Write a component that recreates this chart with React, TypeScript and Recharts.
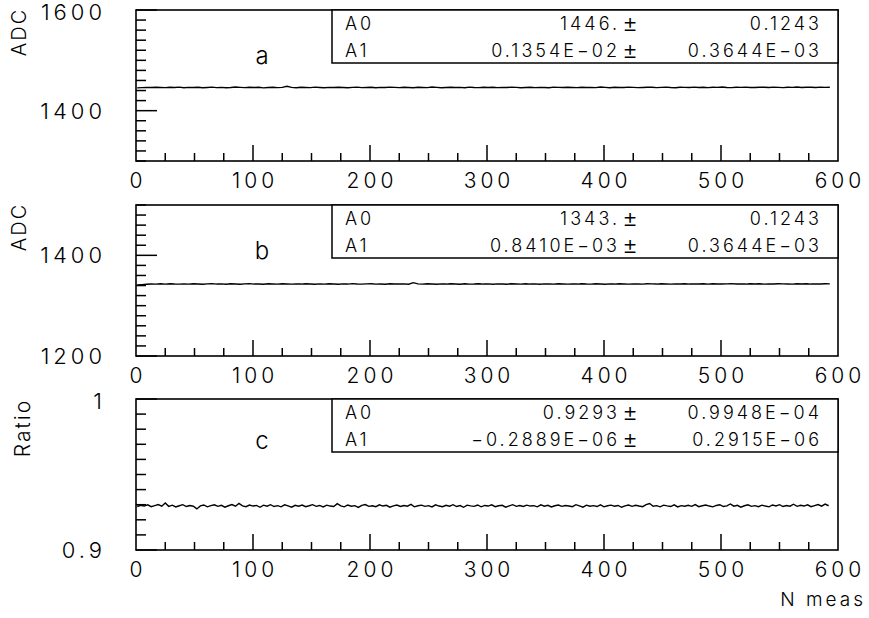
import React from 'react';
import { LineChart, Line, XAxis, YAxis } from 'recharts';

const W = 869;
const H = 618;
const FONT = "Inter, 'DejaVu Sans', sans-serif";
const PLOT_LEFT = 136;
const PLOT_RIGHT = 838;

// x axis: ticks every 25, labels every 100
const xTicks = [0, 25, 50, 75, 100, 125, 150, 175, 200, 225, 250, 275, 300, 325, 350, 375, 400, 425, 450, 475, 500, 525, 550, 575, 600];
const xLabels = [0, 100, 200, 300, 400, 500, 600];

const yTicksA = [1300, 1320, 1340, 1360, 1380, 1400, 1420, 1440, 1460, 1480, 1500, 1520, 1540, 1560, 1580, 1600];
const yLabelsA = [1400, 1600];
const yTicksB = [1200, 1220, 1240, 1260, 1280, 1300, 1320, 1340, 1360, 1380, 1400, 1420, 1440, 1460, 1480, 1500];
const yLabelsB = [1200, 1400];
const yTicksC = [0.9, 0.91, 0.92, 0.93, 0.94, 0.95, 0.96, 0.97, 0.98, 0.99, 1];
const yLabelsC = [0.9, 1];

// ADC, channel a (every 4th measurement)
const adcA = [
  1445.2, 1445.8, 1446.3, 1445.9, 1446.6, 1446.1, 1445.7, 1446.4, 1446.0, 1446.8,
  1445.6, 1446.2, 1445.9, 1446.5, 1445.4, 1446.1, 1446.7, 1445.8, 1446.3, 1445.5,
  1446.0, 1446.9, 1446.2, 1445.7, 1446.4, 1445.9, 1446.6, 1445.3, 1446.1, 1446.5,
  1445.8, 1446.3, 1448.4, 1446.2, 1445.6, 1446.4, 1446.0, 1445.7, 1446.8, 1446.1,
  1445.5, 1446.3, 1445.9, 1446.6, 1446.0, 1445.4, 1446.2, 1446.7, 1445.8, 1446.1,
  1446.5, 1445.6, 1446.3, 1445.9, 1446.8, 1446.2, 1445.7, 1446.4, 1446.0, 1445.5,
  1446.6, 1446.1, 1445.8, 1446.9, 1446.3, 1445.6, 1446.0, 1446.5, 1445.9, 1446.2,
  1445.4, 1446.7, 1446.1, 1445.8, 1446.4, 1446.0, 1446.6, 1445.7, 1446.3, 1445.9,
  1446.8, 1446.2, 1445.5, 1446.1, 1446.5, 1445.8, 1446.3, 1446.0, 1445.6, 1446.7,
  1446.2, 1445.9, 1446.4, 1446.1, 1445.7, 1446.6, 1446.0, 1446.3, 1445.8, 1446.9,
  1446.2, 1445.6, 1446.5, 1446.0, 1445.9, 1446.7, 1446.3, 1445.7, 1446.1, 1446.6,
  1446.4, 1445.8, 1446.2, 1446.8, 1446.0, 1445.6, 1446.5, 1446.3, 1445.9, 1446.7,
  1446.1, 1446.4, 1445.8, 1446.6, 1446.2, 1446.9, 1446.0, 1445.7, 1446.5, 1446.3,
  1446.8, 1446.1, 1445.9, 1446.6, 1446.4, 1446.0, 1446.7, 1446.2, 1445.8, 1446.5,
  1446.3, 1446.9, 1446.1, 1446.6, 1446.4, 1445.9, 1446.7, 1446.2, 1446.5,
];

// ADC, channel b (every 4th measurement)
const adcB = [
  1341.2, 1341.9, 1342.6, 1343.1, 1342.8, 1343.4, 1342.9, 1343.6, 1343.0, 1342.7,
  1343.3, 1342.8, 1343.5, 1343.1, 1342.6, 1343.2, 1343.7, 1342.9, 1343.3, 1342.7,
  1343.4, 1343.0, 1342.5, 1343.2, 1343.8, 1342.9, 1343.1, 1342.6, 1343.4, 1343.0,
  1342.8, 1343.5, 1343.1, 1342.7, 1343.3, 1342.9, 1343.6, 1343.0, 1342.6, 1343.2,
  1342.8, 1343.4, 1343.1, 1342.5, 1343.3, 1342.9, 1343.7, 1343.0, 1342.7, 1343.2,
  1343.5, 1342.8, 1343.1, 1342.6, 1343.4, 1343.0, 1342.9, 1343.3, 1342.7, 1345.8,
  1343.2, 1342.8, 1343.5, 1343.0, 1342.6, 1343.3, 1342.9, 1343.6, 1343.1, 1342.7,
  1343.4, 1342.8, 1343.0, 1343.5, 1342.9, 1343.2, 1342.6, 1343.3, 1343.0, 1342.7,
  1343.6, 1343.1, 1342.8, 1343.4, 1342.9, 1343.2, 1342.5, 1343.3, 1343.0, 1342.8,
  1343.5, 1343.1, 1342.7, 1343.3, 1342.9, 1343.6, 1343.0, 1342.8, 1343.4, 1343.1,
  1342.6, 1343.2, 1342.9, 1343.5, 1343.0, 1342.7, 1343.3, 1343.1, 1342.8, 1343.6,
  1343.2, 1342.9, 1343.4, 1343.0, 1342.7, 1343.3, 1343.1, 1343.5, 1342.9, 1343.2,
  1343.0, 1343.6, 1342.8, 1343.4, 1343.1, 1342.9, 1343.3, 1343.7, 1343.0, 1343.2,
  1342.9, 1343.5, 1343.1, 1343.4, 1342.8, 1343.3, 1343.0, 1343.6, 1343.2,
  1343.1, 1342.8, 1343.4, 1343.0, 1343.5, 1342.9, 1343.3, 1343.1, 1343.6, 1343.2,
];

// ratio a/b (every 3rd measurement)
const ratioC = [
  0.9288, 0.9296, 0.9291, 0.9299, 0.9287, 0.9294, 0.9301, 0.9290, 0.9312, 0.9289,
  0.9297, 0.9285, 0.9293, 0.9300, 0.9288, 0.9295, 0.9290, 0.9272, 0.9292, 0.9298,
  0.9286, 0.9294, 0.9299, 0.9289, 0.9296, 0.9284, 0.9293, 0.9301, 0.9290, 0.9309,
  0.9292, 0.9287, 0.9298, 0.9291, 0.9295, 0.9283, 0.9297, 0.9290, 0.9300, 0.9288,
  0.9294, 0.9286, 0.9299, 0.9292, 0.9284, 0.9296, 0.9290, 0.9298, 0.9287, 0.9293,
  0.9300, 0.9289, 0.9295, 0.9285, 0.9297, 0.9291, 0.9288, 0.9307, 0.9292, 0.9286,
  0.9298, 0.9290, 0.9294, 0.9282, 0.9296, 0.9301, 0.9289, 0.9293, 0.9287, 0.9299,
  0.9291, 0.9296, 0.9284, 0.9292, 0.9298, 0.9288, 0.9295, 0.9290, 0.9302, 0.9286,
  0.9293, 0.9297, 0.9289, 0.9294, 0.9285, 0.9299, 0.9291, 0.9287, 0.9296, 0.9290,
  0.9300, 0.9288, 0.9294, 0.9283, 0.9297, 0.9292, 0.9289, 0.9298, 0.9286, 0.9295,
  0.9291, 0.9299, 0.9287, 0.9293, 0.9296, 0.9284, 0.9292, 0.9300, 0.9289, 0.9295,
  0.9288, 0.9297, 0.9291, 0.9294, 0.9286, 0.9299, 0.9290, 0.9296, 0.9285, 0.9293,
  0.9298, 0.9289, 0.9295, 0.9291, 0.9287, 0.9300, 0.9292, 0.9284, 0.9297, 0.9290,
  0.9294, 0.9288, 0.9299, 0.9286, 0.9293, 0.9297, 0.9290, 0.9295, 0.9283, 0.9292,
  0.9298, 0.9289, 0.9296, 0.9291, 0.9287, 0.9300, 0.9308, 0.9290, 0.9294, 0.9286,
  0.9297, 0.9292, 0.9288, 0.9299, 0.9285, 0.9294, 0.9290, 0.9296, 0.9289, 0.9301,
  0.9287, 0.9293, 0.9298, 0.9291, 0.9286, 0.9295, 0.9300, 0.9288, 0.9292, 0.9305,
  0.9290, 0.9296, 0.9284, 0.9293, 0.9299, 0.9289, 0.9294, 0.9287, 0.9297, 0.9291,
  0.9286, 0.9298, 0.9292, 0.9300, 0.9288, 0.9295, 0.9290, 0.9303, 0.9289, 0.9296,
  0.9291, 0.9299, 0.9287, 0.9294, 0.9301, 0.9290, 0.9304, 0.9293,
];

// fit results shown in the boxes
const fitA = [
  ['A0', '1446.', '0.1243'],
  ['A1', '0.1354E−02', '0.3644E−03'],
];
const fitB = [
  ['A0', '1343.', '0.1243'],
  ['A1', '0.8410E−03', '0.3644E−03'],
];
const fitC = [
  ['A0', '0.9293', '0.9948E−04'],
  ['A1', '−0.2889E−06', '0.2915E−06'],
];

const rowsA = adcA.map((v, i) => ({ n: 1 + i * 4, v }));
const rowsB = adcB.map((v, i) => ({ n: 1 + i * 4, v }));
const rowsC = ratioC.map((v, i) => ({ n: 1 + i * 3, v }));

const txt = { fontFamily: FONT, fontWeight: 300, fill: '#000' } as const;

function XTick(props: any) {
  const { x, y, payload } = props;
  const v = payload.value;
  const major = xLabels.includes(v);
  return (
    <g>
      {v > 0 && v < 600 && (
        <line x1={x} x2={x} y1={y} y2={y - (major ? 16 : 8)} stroke="#000" strokeWidth={1.5} />
      )}
      {major && (
        <text x={x + 2} y={y + 19} textAnchor="middle" dominantBaseline="central" fontSize={21} letterSpacing={4} {...txt}>
          {v}
        </text>
      )}
    </g>
  );
}

function makeYTick(labels: number[]) {
  return (props: any) => {
    const { x, y, payload } = props;
    const v = payload.value;
    const major = labels.includes(v);
    return (
      <g>
        <line x1={x} x2={x + (major ? 21 : 10)} y1={y} y2={y} stroke="#000" strokeWidth={1.5} />
        {major && (
          <text x={x - 30} y={Math.max(y, 12)} textAnchor="end" dominantBaseline="central" fontSize={22} letterSpacing={4} {...txt}>
            {String(v)}
          </text>
        )}
      </g>
    );
  };
}

interface PanelProps {
  top: number;
  bottom: number;
  data: { n: number; v: number }[];
  domain: [number, number];
  yTicks: number[];
  yLabels: number[];
}

function Panel({ top, bottom, data, domain, yTicks, yLabels }: PanelProps) {
  const plotH = bottom - top;
  return (
    <div style={{ position: 'absolute', left: 0, top: top - 10 }}>
      <LineChart
        width={W}
        height={plotH + 10 + 44}
        data={data}
        margin={{ top: 10, right: W - PLOT_RIGHT, bottom: 0, left: 0 }}
      >
        <XAxis
          dataKey="n"
          type="number"
          domain={[0, 600]}
          ticks={xTicks}
          interval={0}
          height={44}
          tickSize={0}
          tickMargin={0}
          axisLine={false}
          tickLine={false}
          tick={XTick}
          allowDataOverflow
        />
        <YAxis
          type="number"
          domain={domain}
          ticks={yTicks}
          interval={0}
          width={PLOT_LEFT}
          tickSize={0}
          tickMargin={0}
          axisLine={false}
          tickLine={false}
          tick={makeYTick(yLabels)}
          allowDataOverflow
        />
        <Line type="linear" dataKey="v" stroke="#000" strokeWidth={1.4} dot={false} isAnimationActive={false} />
      </LineChart>
    </div>
  );
}

function FitBox({ top, rows }: { top: number; rows: string[][] }) {
  return (
    <g>
      <rect x={332} y={top} width={PLOT_RIGHT - 332} height={53} fill="#fff" stroke="#000" strokeWidth={1.5} />
      {rows.map((r, i) => {
        const cy = top + 13 + i * 27;
        return (
          <g key={i}>
            <text x={345} y={cy} dominantBaseline="central" fontSize={18} letterSpacing={3} {...txt}>{r[0]}</text>
            <text x={620} y={cy} textAnchor="end" dominantBaseline="central" fontSize={18} letterSpacing={3} {...txt}>{r[1]}</text>
            <text x={630} y={cy} textAnchor="middle" dominantBaseline="central" fontSize={24} {...txt}>±</text>
            <text x={822} y={cy} textAnchor="end" dominantBaseline="central" fontSize={18} letterSpacing={3} {...txt}>{r[2]}</text>
          </g>
        );
      })}
    </g>
  );
}

const panels = [
  { top: 10, bottom: 161 },
  { top: 205, bottom: 356 },
  { top: 399, bottom: 550 },
];

export default function App() {
  return (
    <div style={{ position: 'relative', width: W, height: H, background: '#fff' }}>
      <style>{'body{margin:0;}'}</style>
      <Panel top={10} bottom={161} data={rowsA} domain={[1300, 1600]} yTicks={yTicksA} yLabels={yLabelsA} />
      <Panel top={205} bottom={356} data={rowsB} domain={[1200, 1500]} yTicks={yTicksB} yLabels={yLabelsB} />
      <Panel top={399} bottom={550} data={rowsC} domain={[0.9, 1]} yTicks={yTicksC} yLabels={yLabelsC} />
      <svg width={W} height={H} style={{ position: 'absolute', left: 0, top: 0, pointerEvents: 'none' }}>
        {panels.map((p, i) => (
          <rect key={i} x={PLOT_LEFT} y={p.top} width={PLOT_RIGHT - PLOT_LEFT} height={p.bottom - p.top} fill="none" stroke="#000" strokeWidth={1.6} />
        ))}
        <FitBox top={10} rows={fitA} />
        <FitBox top={205} rows={fitB} />
        <FitBox top={399} rows={fitC} />
        <text x={262} y={55} textAnchor="middle" dominantBaseline="central" fontSize={24} {...txt}>a</text>
        <text x={262} y={250} textAnchor="middle" dominantBaseline="central" fontSize={24} {...txt}>b</text>
        <text x={262} y={440} textAnchor="middle" dominantBaseline="central" fontSize={24} {...txt}>c</text>
        <text transform="translate(19,32) rotate(-90)" textAnchor="middle" dominantBaseline="central" fontSize={20} letterSpacing={2} {...txt}>ADC</text>
        <text transform="translate(19,227) rotate(-90)" textAnchor="middle" dominantBaseline="central" fontSize={20} letterSpacing={2} {...txt}>ADC</text>
        <text transform="translate(22,428) rotate(-90)" textAnchor="middle" dominantBaseline="central" fontSize={21} letterSpacing={2} {...txt}>Ratio</text>
        <text x={866} y={599} textAnchor="end" dominantBaseline="central" fontSize={19} letterSpacing={3} {...txt}>N meas</text>
      </svg>
    </div>
  );
}
